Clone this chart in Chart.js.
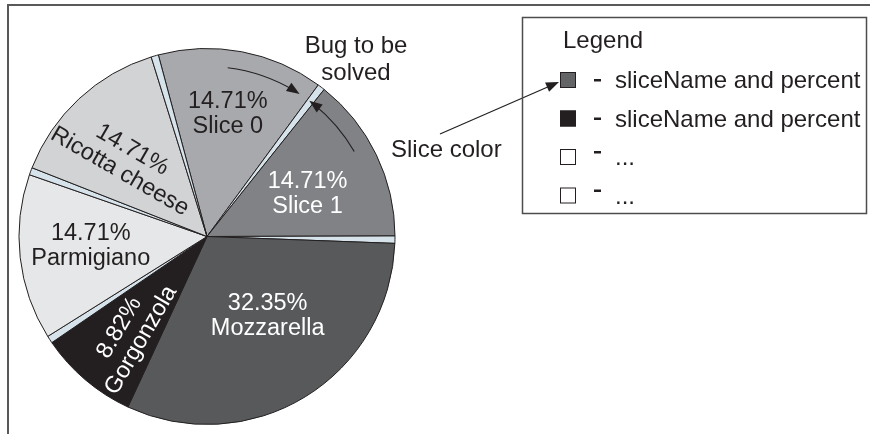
<!DOCTYPE html>
<html>
<head>
<meta charset="utf-8">
<script src="https://cdn.jsdelivr.net/npm/chart.js@4/dist/chart.umd.min.js"></script>
<style>
    body { margin: 0; background: #fff; }
    canvas { display: block; }
</style>
</head>
<body>
<canvas id="pie_chart" width="870" height="434"></canvas>
<script>
// slices, clockwise from "Slice 0"; the empty ones are the thin gaps (the bug)
var sliceNames = ['Slice 0', '', 'Slice 1', '', 'Mozzarella', 'Gorgonzola', '', 'Parmigiano', '', 'Ricotta cheese', ''];
var slicePercents = [14.71, 0.65, 14.71, 0.65, 32.35, 8.82, 0.65, 14.71, 0.65, 14.71, 0.65];
var sliceColors = ['#a7a9ac', '#d6e3ea', '#808285', '#d6e3ea', '#58595b', '#231f20', '#d6e3ea', '#e6e7e8', '#d6e3ea', '#d1d3d4', '#d6e3ea'];

var legendColors = ['#636466', '#231f20', '#ffffff', '#ffffff'];
var legendTexts = ['sliceName and percent', 'sliceName and percent', '...', '...'];

var FONT = '"Liberation Sans", Arial, sans-serif';
var INK = '#231f20';

// where each label sits: fraction of radius, angle nudge, text rotation (deg)
var labelPlace = {
    0: {r: 0.66, da: -1, rot: 0, color: INK},
    2: {r: 0.58, da: 3, rot: 0, color: '#fff'},
    4: {r: 0.53, da: -6, rot: 0, color: '#fff'},
    5: {r: 0.66, da: -2, rot: -60, color: '#fff'},
    7: {r: 0.62, da: 2, rot: 0, color: INK},
    9: {r: 0.59, da: -4, rot: 30, color: INK}
};

function arrowHead(ctx, x, y, ang) {
    ctx.save();
    ctx.translate(x, y);
    ctx.rotate(ang);
    ctx.beginPath();
    ctx.moveTo(0, 0);
    ctx.lineTo(-13, -5);
    ctx.lineTo(-13, 5);
    ctx.closePath();
    ctx.fill();
    ctx.restore();
}

var decorations = {
    id: 'decorations',
    afterDraw: function (chart) {
        var ctx = chart.ctx;
        var arcs = chart.getDatasetMeta(0).data;
        ctx.save();

        // slice labels
        ctx.font = '23.5px ' + FONT;
        ctx.textAlign = 'center';
        ctx.textBaseline = 'middle';
        Object.keys(labelPlace).forEach(function (k) {
            var i = +k, p = labelPlace[k];
            var a = arcs[i].getProps(['x', 'y', 'startAngle', 'endAngle', 'outerRadius'], true);
            var mid = (a.startAngle + a.endAngle) / 2 + p.da * Math.PI / 180;
            var x = a.x + Math.cos(mid) * a.outerRadius * p.r;
            var y = a.y + Math.sin(mid) * a.outerRadius * p.r;
            ctx.save();
            ctx.translate(x, y);
            ctx.rotate(p.rot * Math.PI / 180);
            ctx.fillStyle = p.color;
            ctx.fillText(slicePercents[i].toFixed(2) + '%', 0, -12.5);
            ctx.fillText(sliceNames[i], 0, 12.5);
            ctx.restore();
        });

        // curved arrows pointing at the gap
        var c = arcs[0].getProps(['x', 'y'], true);
        var R = 170, d = Math.PI / 180;
        ctx.strokeStyle = INK;
        ctx.fillStyle = INK;
        ctx.lineWidth = 1.2;
        ctx.beginPath();
        ctx.arc(c.x, c.y, R, (7 - 90) * d, (31 - 90) * d, false);
        ctx.stroke();
        var e1 = (33 - 90) * d;
        arrowHead(ctx, c.x + Math.cos(e1) * R, c.y + Math.sin(e1) * R, e1 + Math.PI / 2);
        ctx.beginPath();
        ctx.arc(c.x, c.y, R, (60 - 90) * d, (39 - 90) * d, true);
        ctx.stroke();
        var e2 = (37 - 90) * d;
        arrowHead(ctx, c.x + Math.cos(e2) * R, c.y + Math.sin(e2) * R, e2 - Math.PI / 2);

        // notes
        ctx.font = '24px ' + FONT;
        ctx.textBaseline = 'alphabetic';
        ctx.textAlign = 'center';
        ctx.fillText('Bug to be', 356, 53);
        ctx.fillText('solved', 356, 80);
        ctx.textAlign = 'left';
        ctx.fillText('Slice color', 391, 157);

        // arrow to the first legend swatch
        ctx.beginPath();
        ctx.moveTo(440, 134);
        ctx.lineTo(550, 86);
        ctx.stroke();
        arrowHead(ctx, 559, 82, Math.atan2(82 - 134, 559 - 440));

        // legend box
        ctx.strokeStyle = '#4d4d4f';
        ctx.lineWidth = 1.5;
        ctx.strokeRect(522.5, 17.5, 344, 196);
        ctx.fillStyle = INK;
        ctx.font = '24px ' + FONT;
        ctx.fillText('Legend', 563, 48);
        legendTexts.forEach(function (t, i) {
            var yc = 80 + i * 38.5;
            ctx.fillStyle = legendColors[i];
            ctx.fillRect(560, yc - 8, 16, 16);
            ctx.strokeStyle = INK;
            ctx.lineWidth = 1;
            ctx.strokeRect(560.5, yc - 7.5, 15, 15);
            ctx.fillStyle = INK;
            ctx.fillRect(594, yc - (i < 2 ? 1 : 6), 7, 2.5);
            ctx.fillText(t, 615, yc + 8);
        });

        // frame
        ctx.strokeStyle = '#58595b';
        ctx.lineWidth = 2;
        ctx.beginPath();
        ctx.moveTo(8, 434);
        ctx.lineTo(8, 5);
        ctx.lineTo(870, 5);
        ctx.stroke();

        ctx.restore();
    }
};

new Chart(document.getElementById('pie_chart').getContext('2d'), {
    type: 'pie',
    data: {
        labels: sliceNames,
        datasets: [{
            data: slicePercents,
            backgroundColor: sliceColors,
            borderColor: INK,
            borderWidth: 1
        }]
    },
    options: {
        responsive: false,
        animation: false,
        rotation: -15,
        radius: 188,
        layout: {padding: {left: 0, right: 456, top: 39, bottom: 0}},
        plugins: {
            legend: {display: false},
            tooltip: {enabled: false}
        }
    },
    plugins: [decorations]
});
</script>
</body>
</html>
